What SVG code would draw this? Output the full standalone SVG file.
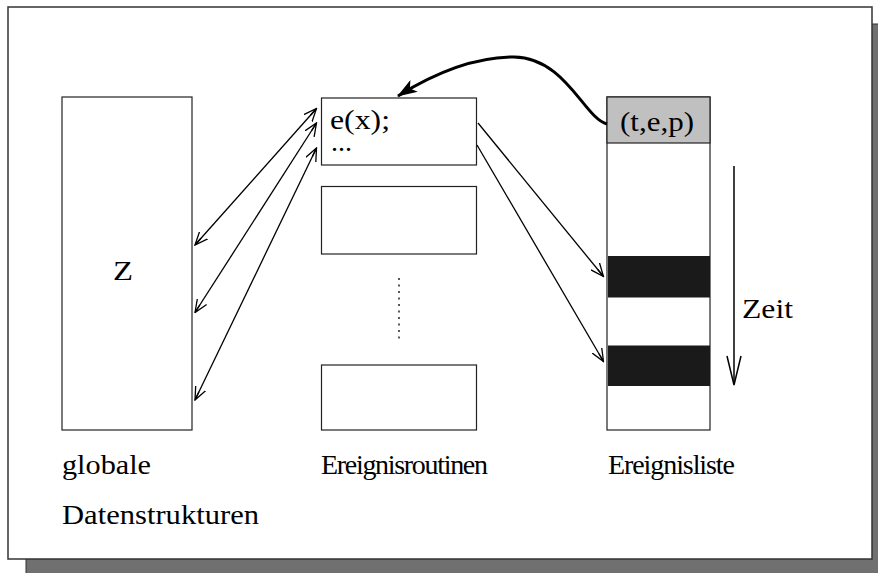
<svg xmlns="http://www.w3.org/2000/svg" width="878" height="573" viewBox="0 0 878 573">
<style>
text{font-family:"Liberation Serif","Times New Roman",serif;font-size:28px;fill:#000}
.box{fill:#fff;stroke:#222;stroke-width:1.2}
.ln{stroke:#000;stroke-width:1.3;fill:none}
</style>
<defs>
<marker id="open" viewBox="0 0 14 12" refX="13" refY="6" markerWidth="14" markerHeight="12" markerUnits="userSpaceOnUse" orient="auto-start-reverse">
<path d="M0,0.5 L13,6 L0,11.5 M4,6 L13,6" fill="none" stroke="#000" stroke-width="1.3"/>
</marker>
<marker id="solid" viewBox="0 0 20 14" refX="19" refY="7" markerWidth="20" markerHeight="14" markerUnits="userSpaceOnUse" orient="auto">
<path d="M0,0 L20,7 L0,14 L5,7 Z" fill="#000"/>
</marker>
</defs>
<g id="frame">
<rect x="26" y="24" width="856" height="553" fill="#707070" stroke="#333" stroke-width="1"/>
<rect x="8" y="7" width="864" height="552" fill="#fff" stroke="#333" stroke-width="1.5"/>
</g>
<g id="globale">
<rect class="box" x="62" y="97" width="130" height="333"/>
<text x="113" y="280" textLength="20" lengthAdjust="spacingAndGlyphs">Z</text>
<text x="62" y="474" textLength="89" lengthAdjust="spacingAndGlyphs">globale</text>
<text x="62" y="524" textLength="197" lengthAdjust="spacingAndGlyphs">Datenstrukturen</text>
</g>
<g id="routine1">
<rect class="box" x="321.5" y="98" width="155" height="67"/>
<text x="330" y="129" textLength="60" lengthAdjust="spacingAndGlyphs">e(x);</text>
<text x="331" y="151" font-size="22">...</text>
</g>
<g id="routine2">
<rect class="box" x="321.5" y="186.5" width="155" height="67.5"/>
</g>
<g id="dots">
<line x1="399" y1="278" x2="399" y2="343" stroke="#000" stroke-width="1.3" stroke-dasharray="2,4.5"/>
</g>
<g id="routine3">
<rect class="box" x="321.5" y="365" width="155" height="65"/>
<text x="321" y="474" font-size="26" textLength="167" lengthAdjust="spacing">Ereignisroutinen</text>
</g>
<g id="ereignisliste">
<rect class="box" x="607" y="97" width="103" height="333"/>
<rect x="607" y="97" width="103" height="46" fill="#c0c0c0" stroke="#222" stroke-width="1.2"/>
<text x="620" y="131" textLength="74" lengthAdjust="spacingAndGlyphs">(t,e,p)</text>
<rect x="608" y="256" width="102" height="41.5" fill="#1a1a1a"/>
<rect x="608" y="345.5" width="102" height="40.5" fill="#1a1a1a"/>
<text x="608" y="474" font-size="26" textLength="127" lengthAdjust="spacing">Ereignisliste</text>
</g>
<g id="zeit">
<line x1="734" y1="166" x2="734" y2="384" stroke="#000" stroke-width="1.5"/>
<path d="M727,356 L734,385 L741,356" fill="none" stroke="#000" stroke-width="1.5"/>
<text x="742" y="318" textLength="51" lengthAdjust="spacingAndGlyphs">Zeit</text>
</g>
<g id="connectors">
<line class="ln" x1="316.5" y1="108.5" x2="195" y2="245" marker-start="url(#open)" marker-end="url(#open)"/>
<line class="ln" x1="316.5" y1="123" x2="195" y2="312.5" marker-start="url(#open)" marker-end="url(#open)"/>
<line class="ln" x1="316.5" y1="148" x2="195" y2="400" marker-start="url(#open)" marker-end="url(#open)"/>
<line class="ln" x1="478" y1="123" x2="603.5" y2="276.5" marker-end="url(#open)"/>
<line class="ln" x1="477" y1="145" x2="603.5" y2="361.5" marker-end="url(#open)"/>
<path d="M607,124 C584,118 566,58 514,57 C472,57 430,76 398,96" fill="none" stroke="#000" stroke-width="3" marker-end="url(#solid)"/>
</g>
</svg>
